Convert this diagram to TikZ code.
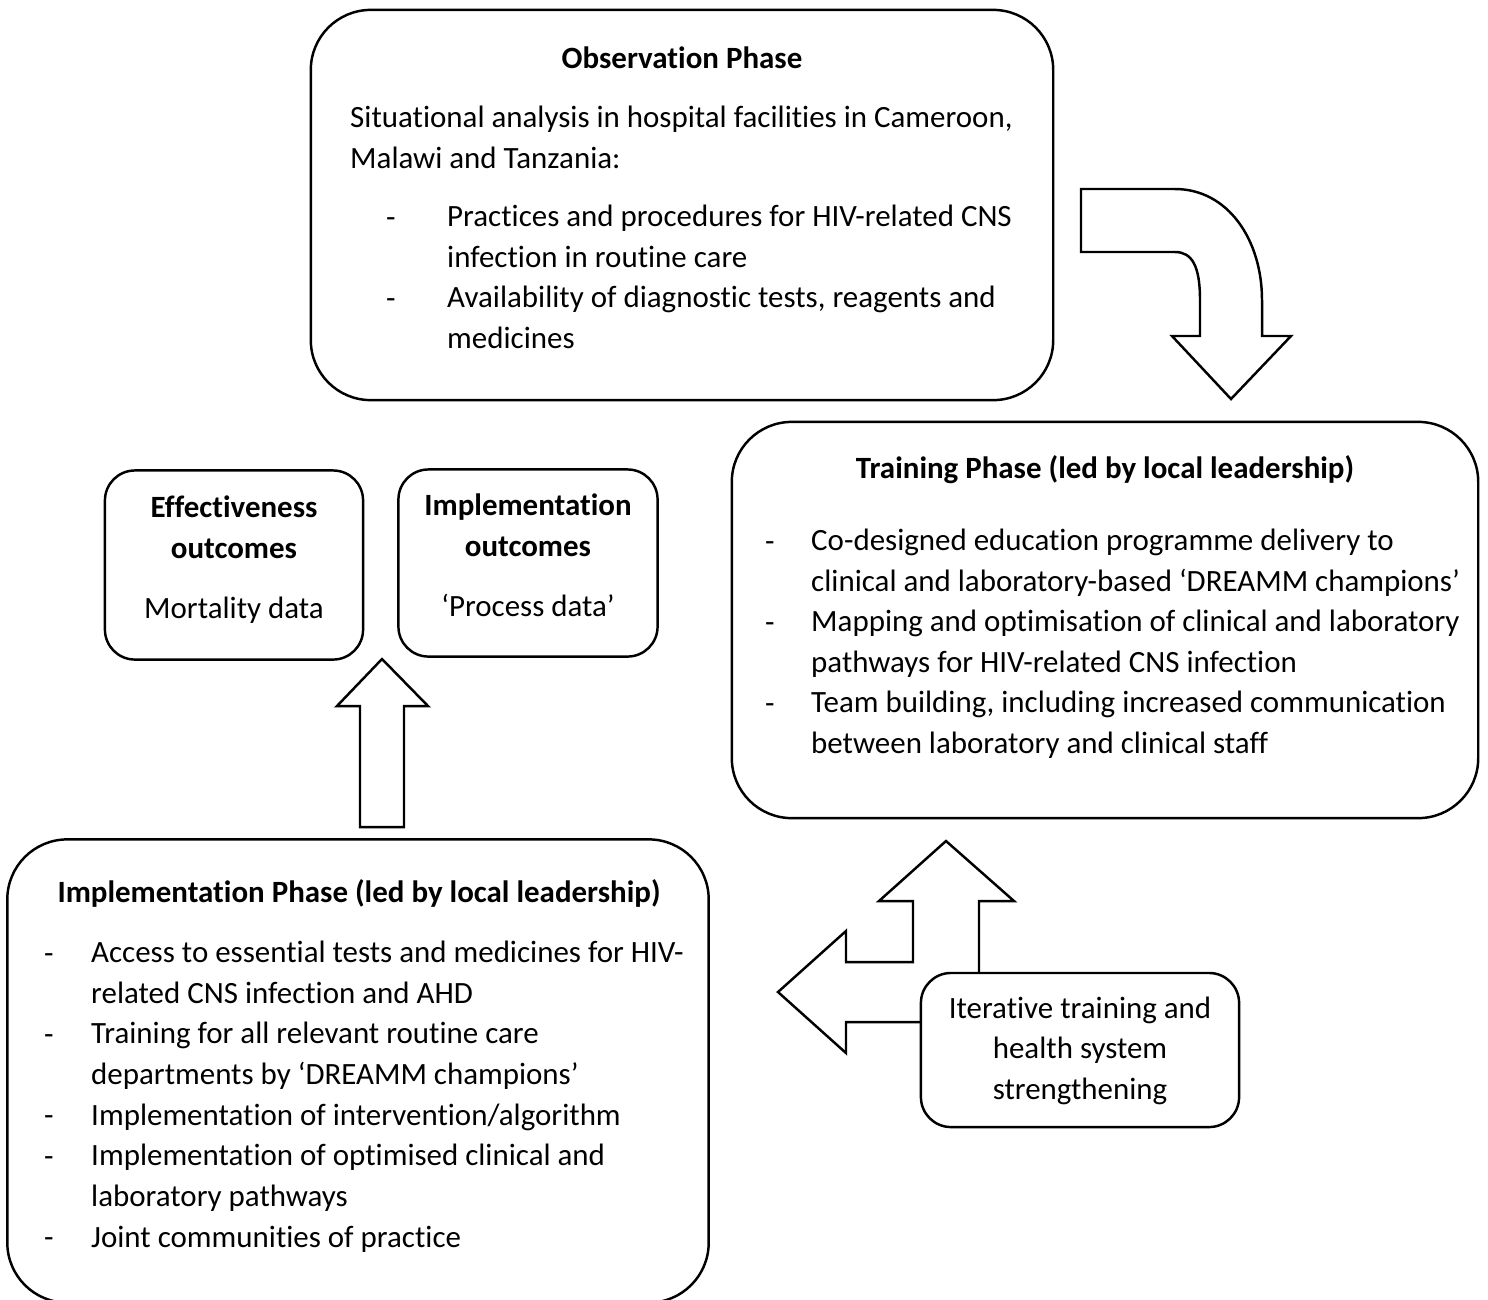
\documentclass[tikz,border=0pt]{standalone}
\usepackage{fontspec}
\setmainfont{Carlito}[Ligatures=NoCommon]

\begin{document}
\begin{tikzpicture}[x=0.01cm,y=-0.01cm,line width=0.7pt,
    bigbox/.style={draw,rounded corners=0.6cm,fill=white},
    smallbox/.style={draw,rounded corners=0.3cm,fill=white},
    txt/.style={inner sep=0pt,font=\fontsize{8.8}{11.4}\selectfont},
    head/.style={txt,anchor=base,align=center,font=\fontsize{8.8}{11.4}\selectfont\bfseries},
    body/.style={txt,anchor=base west,align=left},
    mid/.style={txt,anchor=base,align=center},
    blockarrow/.style={draw,fill=white,line join=miter}]
   \useasboundingbox (0,0) rectangle (1488,1299);

   % phase boxes
   \node[bigbox,minimum width=7.42cm,minimum height=3.90cm] (obs) at (682,205) {};
   \node[bigbox,minimum width=7.46cm,minimum height=3.96cm] (train) at (1105,620) {};
   \node[bigbox,minimum width=7.01cm,minimum height=4.63cm] (impl) at (358,1071) {};

   % outcome boxes
   \node[smallbox,minimum width=2.58cm,minimum height=1.89cm] (effect) at (234,565) {};
   \node[smallbox,minimum width=2.59cm,minimum height=1.87cm] (implout) at (528,563) {};

   % observation (multi-line texts sit on the baseline of their last line)
   \node[head] (obs_t) at (682,68) {Observation Phase};
   \node[body] (obs_b) at (349,168) {Situational analysis in hospital facilities in Cameroon,\\Malawi and Tanzania:};
   \node[body] (obs_d1) at (385,227) {-};
   \node[body] (obs_1) at (446,267) {Practices and procedures for HIV-related CNS\\infection in routine care};
   \node[body] (obs_d2) at (385,308) {-};
   \node[body] (obs_2) at (446,348) {Availability of diagnostic tests, reagents and\\medicines};

   % training
   \node[head] (train_t) at (1105,478) {Training Phase (led by local leadership)};
   \node[body] (train_d1) at (764,551) {-};
   \node[body] (train_1) at (810,591) {Co-designed education programme delivery to\\clinical and laboratory-based ‘DREAMM champions’};
   \node[body] (train_d2) at (764,632) {-};
   \node[body] (train_2) at (810,672) {Mapping and optimisation of clinical and laboratory\\pathways for HIV-related CNS infection};
   \node[body] (train_d3) at (764,713) {-};
   \node[body] (train_3) at (810,753) {Team building, including increased communication\\between laboratory and clinical staff};

   % implementation
   \node[head] (impl_t) at (359,902) {Implementation Phase (led by local leadership)};
   \node[body] (impl_d1) at (43,963) {-};
   \node[body] (impl_1) at (90,1003) {Access to essential tests and medicines for HIV-\\related CNS infection and AHD};
   \node[body] (impl_d2) at (43,1044) {-};
   \node[body] (impl_2) at (90,1084) {Training for all relevant routine care\\departments by ‘DREAMM champions’};
   \node[body] (impl_d3) at (43,1125) {-};
   \node[body] (impl_3) at (90,1125) {Implementation of intervention/algorithm};
   \node[body] (impl_d4) at (43,1166) {-};
   \node[body] (impl_4) at (90,1206) {Implementation of optimised clinical and\\laboratory pathways};
   \node[body] (impl_d5) at (43,1247) {-};
   \node[body] (impl_5) at (90,1247) {Joint communities of practice};

   % outcomes
   \node[head] (effect_t) at (234,558) {Effectiveness\\outcomes};
   \node[mid] (effect_b) at (234,618) {Mortality data};
   \node[head] (implout_t) at (528,556) {Implementation\\outcomes};
   \node[mid] (implout_b) at (528,616) {‘Process data’};

   % arrows
   \draw[blockarrow] (1081,189) -- (1175,189) .. controls (1228,189) and (1262,240) .. (1262,300)
      -- (1262,336) -- (1291,336) -- (1231,399) -- (1172,336) -- (1200,336) -- (1200,300)
      .. controls (1200,266) and (1192,252) .. (1175,252) -- (1081,252) -- cycle;
   \draw[blockarrow] (360,827) -- (360,706) -- (337,706) -- (382,659) -- (428,706) -- (404,706) -- (404,827) -- cycle;
   \draw[blockarrow] (979,1022) -- (979,901) -- (1014,901) -- (946,841) -- (879,901) -- (913,901) -- (913,962)
      -- (846,962) -- (846,931) -- (778,992) -- (846,1053) -- (846,1022) -- cycle;

   \node[smallbox,minimum width=3.18cm,minimum height=1.54cm] (iter) at (1080,1050) {};
   \node[mid] (iter_t) at (1080,1099) {Iterative training and\\health system\\strengthening};

\end{tikzpicture}
\end{document}
